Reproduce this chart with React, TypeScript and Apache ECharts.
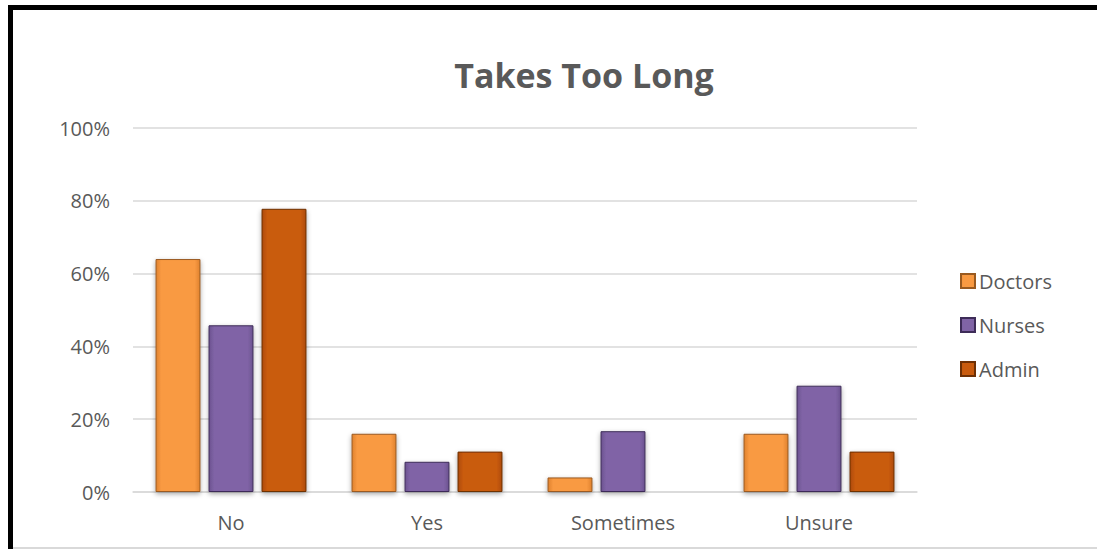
import React, { useEffect, useRef } from "react";
import * as echarts from "echarts";

const categories = ["No", "Yes", "Sometimes", "Unsure"];
const seriesNames = ["Doctors", "Nurses", "Admin"];
const doctors = [64, 16, 4, 16];
const nurses = [45.8, 8.3, 16.7, 29.2];
const admin = [77.8, 11.1, 0, 11.1];
const yTicks = [0, 20, 40, 60, 80, 100];

const colors = ["#F99A42", "#8064A6", "#C95B0E"];
const edges = ["#E0822E", "#6C5290", "#AE4A06"];
const borders = ["#9A5A20", "#3E2C58", "#6E3005"];

export default function App() {
  const ref = useRef<HTMLDivElement>(null);
  useEffect(() => {
    if (!ref.current) return;
    const chart = echarts.init(ref.current, null, { renderer: "svg" });
    const data = [doctors, nurses, admin];
    chart.setOption({
      animation: false,
      backgroundColor: "#ffffff",
      title: {
        text: "Takes Too Long",
        left: 579,
        textAlign: "center",
        top: 53,
        textStyle: {
          fontFamily: "Open Sans",
          fontWeight: "bold",
          fontSize: 34,
          color: "#595959",
        },
      },
      grid: { left: 133, right: 180, top: 128, bottom: 57 },
      legend: {
        orient: "vertical",
        left: 955,
        top: 266,
        itemWidth: 14,
        itemHeight: 14,
        itemGap: 24,
        icon: "rect",
        data: seriesNames,
        textStyle: { fontFamily: "Open Sans", fontSize: 20, color: "#595959", padding: [0, 0, 0, -1] },
      },
      xAxis: {
        type: "category",
        data: categories,
        axisLine: { lineStyle: { color: "#D9D9D9", width: 1.5 } },
        axisTick: { show: false },
        axisLabel: { fontFamily: "Open Sans", fontSize: 20, color: "#595959", margin: 20 },
      },
      yAxis: {
        type: "value",
        min: yTicks[0],
        max: yTicks[yTicks.length - 1],
        interval: 20,
        axisLine: { show: false },
        axisTick: { show: false },
        splitLine: { lineStyle: { color: "#D9D9D9", width: 1.5 } },
        axisLabel: {
          fontFamily: "Open Sans",
          fontSize: 20,
          color: "#595959",
          margin: 23,
          formatter: (v: number) => v + "%",
        },
      },
      series: seriesNames.map((name, i) => ({
        name,
        type: "bar",
        data: data[i],
        barGap: "18%",
        barCategoryGap: "23%",
        itemStyle: {
          color: {
            type: "linear",
            x: 0,
            y: 0,
            x2: 1,
            y2: 0,
            colorStops: [
              { offset: 0, color: edges[i] },
              { offset: 0.12, color: colors[i] },
              { offset: 0.88, color: colors[i] },
              { offset: 1, color: edges[i] },
            ],
          },
          borderColor: borders[i],
          borderWidth: 1,
          shadowColor: "rgba(0,0,0,0.35)",
          shadowBlur: 5,
          shadowOffsetY: 2,
        },
      })),
      graphic: [
        { type: "rect", shape: { x: 8, y: 5, width: 1089, height: 5 }, style: { fill: "#000" } },
        { type: "rect", shape: { x: 8, y: 5, width: 5, height: 544 }, style: { fill: "#000" } },
        { type: "rect", shape: { x: 13, y: 547, width: 1084, height: 2 }, style: { fill: "#D9D9D9" } },
      ],
    });
    return () => chart.dispose();
  }, []);
  return (
    <div
      ref={ref}
      style={{ position: "fixed", left: 0, top: 0, width: 1097, height: 549 }}
    />
  );
}
